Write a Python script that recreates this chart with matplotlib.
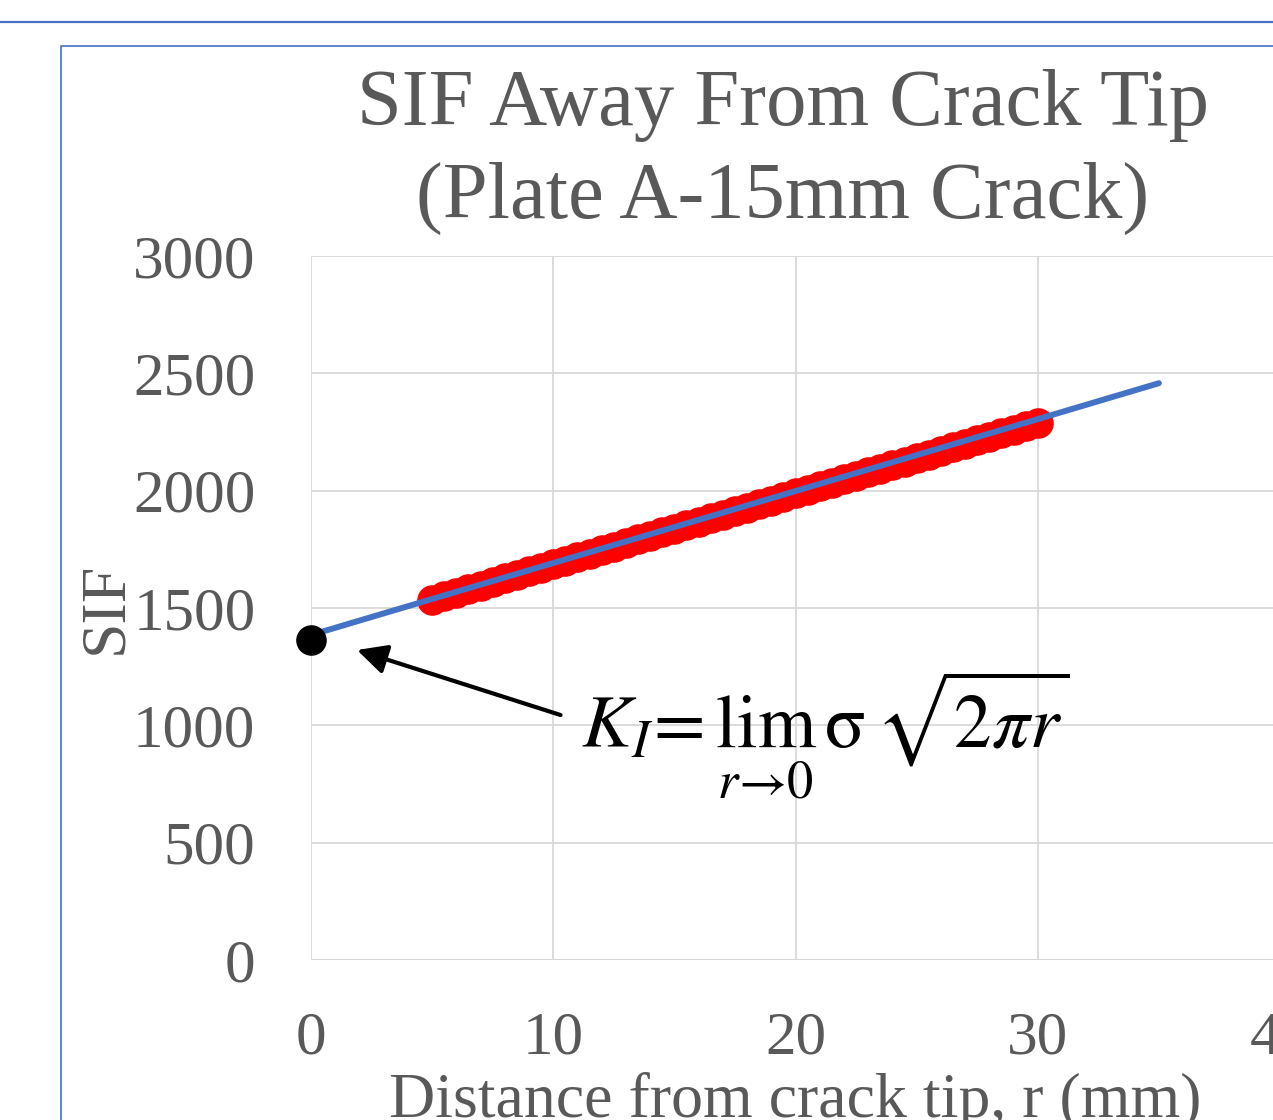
import matplotlib
matplotlib.use('Agg')
import matplotlib.pyplot as plt
from matplotlib.lines import Line2D

# SIF values (red markers), step 0.5 mm
r_mm = [5 + 0.5 * i for i in range(51)]
sif = [1535, 1550, 1565, 1580, 1595, 1611, 1626, 1641, 1656, 1671,
       1686, 1701, 1716, 1731, 1746, 1762, 1777, 1792, 1807, 1822,
       1837, 1852, 1867, 1882, 1897, 1913, 1928, 1943, 1958, 1973,
       1988, 2003, 2018, 2033, 2048, 2064, 2079, 2094, 2109, 2124,
       2139, 2154, 2169, 2184, 2199, 2215, 2230, 2245, 2260, 2275,
       2290]

# linear trendline ends
trend_r = [0, 35]
trend_sif = [1385, 2458]

# extrapolated value at the crack tip
tip_r = [0]
tip_sif = [1365]

xticks = [0, 10, 20, 30, 40]
yticks = [0, 500, 1000, 1500, 2000, 2500, 3000]

grey = '#595959'
blue = '#4472C4'
plt.rcParams['font.family'] = ['Liberation Serif', 'DejaVu Serif']
plt.rcParams['mathtext.fontset'] = 'stix'

W, H = 1273, 1120
fig = plt.figure(figsize=(W / 100, H / 100), dpi=100)

# border lines of the surrounding document / chart frame
fig.add_artist(Line2D([0, 1], [1 - 22 / H, 1 - 22 / H], color=blue, lw=1.6))
fig.add_artist(Line2D([61 / W, 61 / W, 1], [0, 1 - 46 / H, 1 - 46 / H],
                      color=blue, lw=1.2))

ax = fig.add_axes([311 / W, (H - 960) / H, 969 / W, 704 / H])
ax.set_xlim(0, 40)
ax.set_ylim(0, 3000)
ax.set_xticks(xticks)
ax.set_yticks(yticks)
for s in ax.spines.values():
  s.set_visible(False)
ax.grid(True, color='#d9d9d9', lw=1.3, zorder=0)
ax.axhline(0, color='#bfbfbf', lw=1.5, zorder=1)
ax.tick_params(length=0, labelsize=44, labelcolor=grey)
ax.tick_params(axis='y', pad=40)
ax.tick_params(axis='x', pad=37)

ax.plot(r_mm, sif, 'o', ms=21, color='red', mec='red', zorder=3)
ax.plot(trend_r, trend_sif, color=blue, lw=4.3, solid_capstyle='round', zorder=4)
ax.plot(tip_r, tip_sif, 'o', ms=21, color='black', zorder=5, clip_on=False)

ax.annotate('', xy=(1.9, 1321), xytext=(10.3, 1044),
            arrowprops=dict(arrowstyle='-|>', lw=3, color='black',
                            mutation_scale=45, shrinkA=0, shrinkB=0))
ax.text(11.15, 903, r'$K_I\!=\lim_{r\to 0}\,\mathrm{\sigma}\,\sqrt{2\pi r}$',
        fontsize=54, color='black', ha='left', va='baseline')

ax.set_ylabel('SIF', fontsize=46, color=grey, labelpad=-2)
ax.set_xlabel('Distance from crack tip, r (mm)', fontsize=46, color=grey,
              labelpad=4)

fig.text(783 / W, 1 - 106 / H, 'SIF Away From Crack Tip', fontsize=58,
         color=grey, ha='center', va='center')
fig.text(783 / W, 1 - 198 / H, '(Plate A-15mm Crack)', fontsize=58,
         color=grey, ha='center', va='center')

fig.savefig('out.png', dpi=100)
